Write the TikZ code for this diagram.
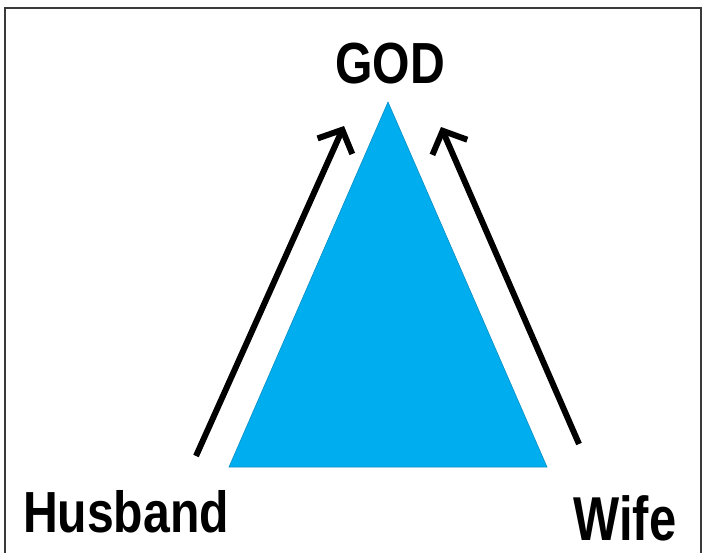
\documentclass[tikz,border=0pt]{standalone}
\usepackage{fontspec}
\setmainfont{Liberation Sans}
\usepackage{xcolor}
\usepackage{tikz}
\usetikzlibrary{arrows.meta,positioning}
\definecolor{figCyan}{HTML}{00AEEF}
\definecolor{figEdge}{HTML}{0A8FC4}
\definecolor{figFrame}{HTML}{3A3A3A}

\begin{document}
\begin{tikzpicture}[
  x=1pt, y=-1pt,
  word/.style={
    font=\fontsize{58}{58}\selectfont\bfseries,
    inner sep=0pt, anchor=base, xscale=0.83
  },
  arr/.style={-{Straight Barb[length=18pt,width=38pt]}, line width=6pt, black}
]
\useasboundingbox (0,0) rectangle (703,552);
\clip (0,0) rectangle (703,552);

% Frame
\draw[figFrame, line width=2pt] (5,600) -- (5,8) -- (701,8) -- (701,600);

% Triangle
\coordinate (apex) at (388,102);
\coordinate (baseL) at (229,467);
\coordinate (baseR) at (547,467);
\filldraw[fill=figCyan, draw=figEdge, line width=0.6pt]
  (apex) -- (baseR) -- (baseL) -- cycle;

% Labels
\node[word] (god) at (390,83) {GOD};
\node[word] (husband) at (126,532) {Husband};
\node[word, font=\fontsize{62}{62}\selectfont\bfseries, xscale=0.95]
  (wife) at (625,540) {Wife};

% Arrows
\coordinate (htail) at (196,456);
\coordinate (htip) at (344,126);
\coordinate (wtail) at (579,444);
\coordinate (wtip) at (441,127);
\draw[arr] (htail) -- (htip);
\draw[arr] (wtail) -- (wtip);

\end{tikzpicture}
\end{document}
